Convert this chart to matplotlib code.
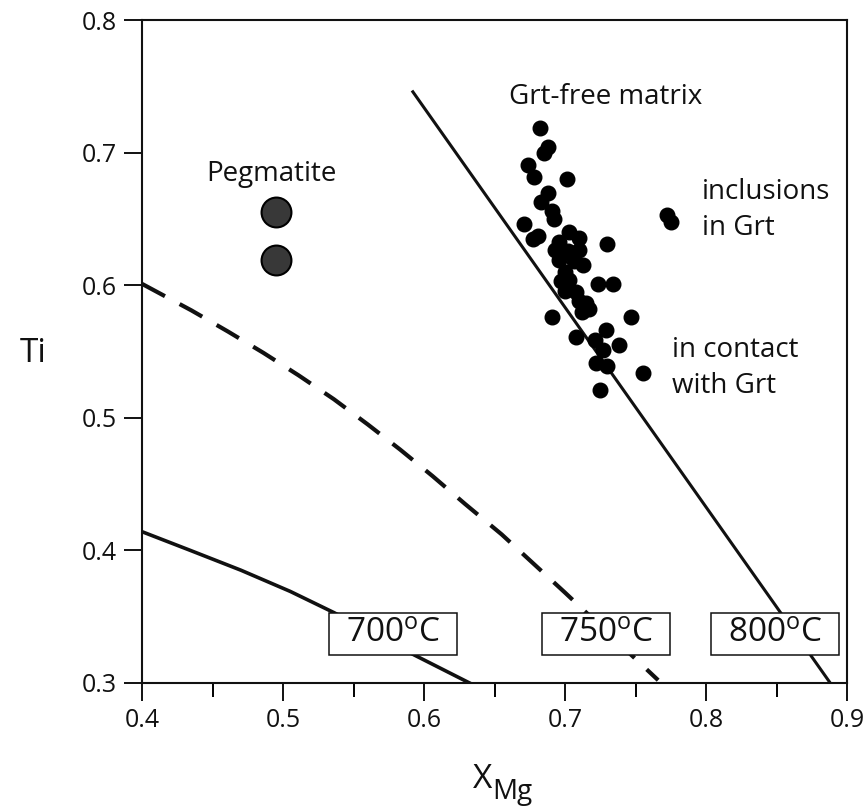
import matplotlib
matplotlib.use('Agg')
import matplotlib.pyplot as plt
from matplotlib.patches import Rectangle
from matplotlib.ticker import MultipleLocator

plt.rcParams['font.family'] = ['Open Sans', 'DejaVu Sans']
plt.rcParams['mathtext.fontset'] = 'custom'
plt.rcParams['mathtext.rm'] = 'Open Sans'
plt.rcParams['mathtext.it'] = 'Open Sans'

# data
matrix_x = [0.682, 0.688, 0.685, 0.674, 0.678, 0.701, 0.688, 0.683, 0.691, 0.692,
            0.671, 0.677, 0.681, 0.703, 0.710, 0.696, 0.693, 0.702, 0.710, 0.696,
            0.706, 0.713, 0.700, 0.697, 0.703, 0.700, 0.708, 0.710, 0.715, 0.712,
            0.717, 0.730, 0.723, 0.734, 0.691, 0.747, 0.708, 0.729, 0.721, 0.738,
            0.727, 0.722, 0.730, 0.725, 0.755]
matrix_y = [0.719, 0.704, 0.700, 0.691, 0.682, 0.680, 0.670, 0.663, 0.656, 0.650,
            0.646, 0.635, 0.637, 0.640, 0.636, 0.633, 0.627, 0.626, 0.627, 0.619,
            0.618, 0.615, 0.610, 0.603, 0.604, 0.596, 0.595, 0.588, 0.587, 0.580,
            0.582, 0.631, 0.601, 0.601, 0.576, 0.576, 0.561, 0.566, 0.559, 0.555,
            0.551, 0.541, 0.539, 0.521, 0.534]
incl_x = [0.772, 0.775]
incl_y = [0.653, 0.648]
pegm_x = [0.495, 0.495]
pegm_y = [0.655, 0.619]

# isotherms
iso800_x = [0.592, 0.888]
iso800_y = [0.746, 0.300]
iso750_x = [0.400, 0.435, 0.461, 0.486, 0.511, 0.536, 0.560, 0.583, 0.606, 0.629,
            0.655, 0.700, 0.766]
iso750_y = [0.601, 0.581, 0.565, 0.549, 0.532, 0.514, 0.495, 0.476, 0.456, 0.435,
            0.412, 0.368, 0.302]
iso700_x = [0.400, 0.434, 0.470, 0.505, 0.536, 0.593, 0.632]
iso700_y = [0.414, 0.400, 0.385, 0.369, 0.353, 0.321, 0.300]

iso_labels = ['700$^{\\mathregular{o}}$C', '750$^{\\mathregular{o}}$C', '800$^{\\mathregular{o}}$C']
iso_label_x = [0.578, 0.729, 0.849]
iso_label_y = 0.337

fig = plt.figure(figsize=(8.67, 8.10), dpi=100)
ax = fig.add_axes([0.164, 0.157, 0.813, 0.818])

ink = '#111111'
ax.plot(iso800_x, iso800_y, color=ink, lw=2.2, zorder=2)
ax.plot(iso750_x, iso750_y, color=ink, lw=3, dashes=(6.2, 4.0), zorder=2)
ax.plot(iso700_x, iso700_y, color=ink, lw=2.6, zorder=2)

ax.plot(matrix_x, matrix_y, 'o', color='black', ms=10.5, zorder=3)
ax.plot(incl_x, incl_y, 'o', color='black', ms=10.5, zorder=3)
ax.plot(pegm_x, pegm_y, 'o', mfc='#383838', mec='black', mew=1.5, ms=21.5, zorder=3)

# boxed isotherm labels
box_w, box_h = 0.091, 0.032
for lab, lx in zip(iso_labels, iso_label_x):
    ax.add_patch(Rectangle((lx - box_w / 2, iso_label_y - box_h / 2), box_w, box_h,
                           fc='white', ec=ink, lw=1.1, zorder=4))
    ax.text(lx, iso_label_y, lab, fontsize=24, ha='center', va='center',
            color=ink, zorder=5)

ax.text(0.492, 0.684, 'Pegmatite', fontsize=20, ha='center', va='center', color=ink)
ax.text(0.729, 0.742, 'Grt-free matrix', fontsize=20, ha='center', va='center', color=ink)
ax.text(0.797, 0.657, 'inclusions\nin Grt', fontsize=20, ha='left', va='center',
        color=ink, linespacing=1.38)
ax.text(0.776, 0.5375, 'in contact\nwith Grt', fontsize=20, ha='left', va='center',
        color=ink, linespacing=1.38)

ax.set_xlim(0.4, 0.9)
ax.set_ylim(0.3, 0.8)
ax.xaxis.set_minor_locator(MultipleLocator(0.05))
ax.set_xticks([0.4, 0.5, 0.6, 0.7, 0.8, 0.9])
ax.set_xticklabels(['0.4', '0.5', '0.6', '0.7', '0.8', '0.9'])
ax.set_yticks([0.3, 0.4, 0.5, 0.6, 0.7, 0.8])
ax.set_yticklabels(['0.3', '0.4', '0.5', '0.6', '0.7', '0.8'])
ax.tick_params(which='major', length=13, width=1.4, labelsize=18, colors=ink, pad=5)
ax.tick_params(which='minor', length=10, width=1.4)
for s in ax.spines.values():
    s.set_linewidth(1.5)
    s.set_color(ink)

# X_Mg axis title, subscript drawn as its own text so it can stay large
xt = ax.get_xaxis_transform()
ax.text(0.648, -0.158, 'X', fontsize=24, ha='right', va='baseline', color=ink,
        transform=xt, clip_on=False)
ax.text(0.648, -0.176, 'Mg', fontsize=20, ha='left', va='baseline', color=ink,
        transform=xt, clip_on=False)
ax.set_ylabel('Ti', fontsize=24, rotation=0, va='center', ha='center', color=ink)
ax.yaxis.set_label_coords(-0.155, 0.497)

fig.savefig('out.png', dpi=100, facecolor='white')
